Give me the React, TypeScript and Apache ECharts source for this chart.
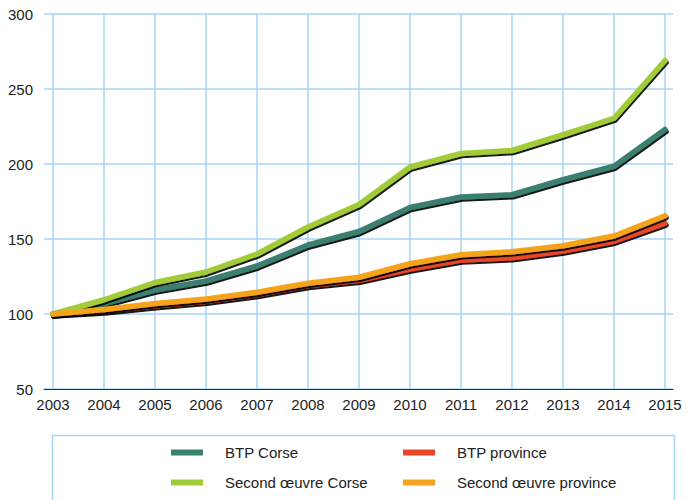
import React, { useEffect, useRef } from "react";
import * as echarts from "echarts";

const years = ["2003","2004","2005","2006","2007","2008","2009","2010","2011","2012","2013","2014","2015"];
const btpCorse = [100, 107, 116, 122, 132, 146, 155, 171, 178, 179.5, 189.5, 198.5, 223];
const btpProvince = [100, 102, 105.5, 108.5, 113, 119, 122.5, 130, 136, 137.5, 142, 148.5, 160.5];
const secondCorse = [100, 109.5, 121, 128, 140, 158, 173, 198, 207, 209, 219.5, 230.5, 269];
const secondProvince = [100, 103, 107, 110, 114.5, 120.5, 124.5, 133.5, 139.5, 141.5, 145.5, 152, 165.5];
const yTicks = { min: 50, max: 300, interval: 50 };

const names = ["BTP Corse", "BTP province", "Second œuvre Corse", "Second œuvre province"];
const colors = ["#3b7f6f", "#ea4526", "#a2cb38", "#f6a31f"];
const seriesData = [btpCorse, btpProvince, secondCorse, secondProvince];

const GRID_COLOR = "#a6d6f2";
const FONT = "'Liberation Sans', Arial, sans-serif";

const legendBase = {
  orient: "vertical", top: 445, padding: 0,
  icon: "rect", itemWidth: 32, itemHeight: 6, itemGap: 15,
  textStyle: { color: "#222", fontSize: 15, fontFamily: FONT, padding: [0, 0, 0, 17] },
  itemStyle: { shadowColor: "transparent", shadowBlur: 0, shadowOffsetX: 0, shadowOffsetY: 0 },
  lineStyle: { shadowColor: "transparent" },
};

export default function App() {
  const ref = useRef<HTMLDivElement>(null);
  useEffect(() => {
    const chart = echarts.init(ref.current!, null, { renderer: "svg" });
    chart.setOption({
      animation: false,
      textStyle: { fontFamily: FONT },
      grid: [
        { left: 44, right: 26, top: 14, bottom: 111, containLabel: false },
        { left: 53, right: 34, top: 14, bottom: 111, containLabel: false },
      ],
      xAxis: [
        {
          gridIndex: 0, type: "value", min: 0, max: 1,
          axisLine: { show: true, lineStyle: { color: "#333", width: 1 } },
          axisTick: { show: false }, axisLabel: { show: false }, splitLine: { show: false },
        },
        {
          gridIndex: 1, type: "category", data: years, boundaryGap: false,
          axisLine: { show: false }, axisTick: { show: false },
          axisLabel: { color: "#222", fontSize: 15, margin: 8, fontFamily: FONT },
          splitLine: { show: true, lineStyle: { color: GRID_COLOR, width: 1.5 } },
        },
      ],
      yAxis: [
        {
          gridIndex: 0, type: "value", min: yTicks.min, max: yTicks.max, interval: yTicks.interval,
          axisLine: { show: false }, axisTick: { show: false },
          axisLabel: { color: "#222", fontSize: 15, margin: 11, fontFamily: FONT },
          splitLine: { show: true, lineStyle: { color: GRID_COLOR, width: 1.5 } },
        },
        {
          gridIndex: 1, type: "value", min: yTicks.min, max: yTicks.max, interval: yTicks.interval,
          axisLine: { show: false }, axisTick: { show: false }, axisLabel: { show: false },
          splitLine: { show: false },
        },
      ],
      legend: [
        { ...legendBase, data: [names[0], names[2]], left: 171 },
        { ...legendBase, data: [names[1], names[3]], left: 403 },
      ],
      graphic: [
        {
          type: "rect", left: 50, top: 433, silent: true,
          shape: { width: 622, height: 80 },
          style: { fill: "none", stroke: GRID_COLOR, lineWidth: 1.5 },
        },
      ],
      series: seriesData.map((d, i) => ({
        name: names[i], type: "line", xAxisIndex: 1, yAxisIndex: 1, data: d,
        showSymbol: false, symbol: "none", color: colors[i],
        itemStyle: { color: colors[i] },
        lineStyle: {
          color: colors[i], width: 5.5, cap: "round", join: "round",
          shadowColor: "rgba(0,0,0,0.9)", shadowBlur: 1, shadowOffsetX: 1, shadowOffsetY: 2,
        },
      })),
    });
    return () => chart.dispose();
  }, []);
  return <div ref={ref} style={{ width: 699, height: 500, position: "absolute", left: 0, top: 0 }} />;
}
